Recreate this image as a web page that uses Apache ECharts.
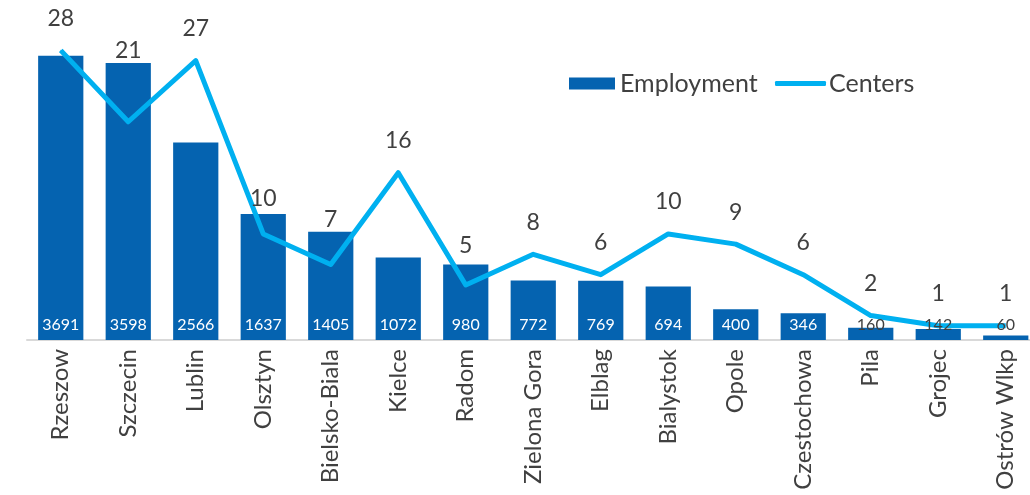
<!DOCTYPE html>
<html>
<head>
<meta charset="utf-8">
<script src="https://cdn.jsdelivr.net/npm/echarts@6/dist/echarts.min.js"></script>
<style>
html,body{margin:0;padding:0;background:#fff;overflow:hidden;}
#chart{width:1040px;height:495px;}
</style>
</head>
<body>
<div id="chart"></div>
<script>
var categories = ['Rzeszow','Szczecin','Lublin','Olsztyn','Bielsko-Biala','Kielce','Radom','Zielona Gora','Elblag','Bialystok','Opole','Czestochowa','Pila','Grojec','Ostrów Wlkp'];
var employment = [3691,3598,2566,1637,1405,1072,980,772,769,694,400,346,160,142,60];
var centers = [28,21,27,10,7,16,5,8,6,10,9,6,2,1,1];

var FONT = 'Lato';
var TXT = '#404040';
var BAR = '#0563B0';
var LINE = '#00B0F0';

// extra upward nudges for some line labels (as placed in the original)
var labelNudge = {1: 39, 3: 3, 4: 13, 6: 7};

var barLabelData = employment.map(function (v) {
  return {
    value: v,
    label: { color: v < 300 ? TXT : '#ffffff' }
  };
});
var lineData = centers.map(function (v, i) {
  var d = { value: v };
  if (labelNudge[i]) d.label = { offset: [0, -labelNudge[i]] };
  return d;
});

var legendText = { fontFamily: FONT, fontSize: 25, color: TXT };

var chart = echarts.init(document.getElementById('chart'));
chart.setOption({
  animation: false,
  textStyle: { fontFamily: FONT },
  grid: { left: 27, right: 0.5, top: 32, bottom: 155, containLabel: false },
  legend: [
    {
      left: 569, top: 71, padding: 0,
      itemWidth: 46, itemHeight: 12,
      textStyle: legendText,
      data: [{ name: 'Employment', icon: 'rect' }]
    },
    {
      left: 775, top: 71, padding: 0,
      itemWidth: 51, itemHeight: 5,
      textStyle: Object.assign({}, legendText, { padding: [0, 0, 0, -2] }),
      data: [{ name: 'Centers', icon: 'roundRect' }]
    }
  ],
  xAxis: {
    type: 'category',
    data: categories,
    axisLine: { lineStyle: { color: '#D9D9D9', width: 2 } },
    axisTick: { show: false },
    axisLabel: { rotate: 90, fontFamily: FONT, fontSize: 24, color: TXT, margin: 9, interval: 0 }
  },
  yAxis: [
    { type: 'value', min: 0, max: 4000, show: false },
    { type: 'value', min: -0.4, max: 29.8, show: false }
  ],
  series: [
    {
      name: 'Employment', type: 'bar', yAxisIndex: 0,
      data: employment,
      barCategoryGap: '33%',
      itemStyle: { color: BAR },
      z: 2
    },
    {
      name: 'Centers', type: 'line', yAxisIndex: 1,
      data: lineData,
      symbol: 'circle', symbolSize: 1, showSymbol: true,
      itemStyle: { color: LINE },
      lineStyle: { color: LINE, width: 5, join: 'round' },
      label: { show: true, position: 'top', distance: 20, fontFamily: FONT, fontSize: 23, color: TXT },
      z: 3
    },
    {
      name: 'EmploymentLabels', type: 'bar', yAxisIndex: 0,
      data: barLabelData,
      barCategoryGap: '33%', barGap: '-100%',
      itemStyle: { color: 'rgba(0,0,0,0)' },
      silent: true,
      z: 5,
      label: { show: true, position: 'insideBottom', distance: 7, fontFamily: FONT, fontSize: 16 }
    }
  ]
});
</script>
</body>
</html>
